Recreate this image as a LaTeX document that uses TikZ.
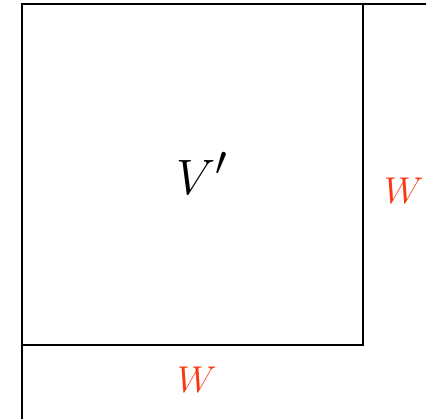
\documentclass[tikz,border=0pt]{standalone}
\usetikzlibrary{positioning}
\begin{document}
\begin{tikzpicture}[x=1pt, y=-1pt, line width=1.6pt]

% Define Colors
\definecolor{labelRed}{RGB}{250,55,20}
\tikzset{
    spaceBox/.style={draw, black, minimum width=341pt, minimum height=341pt, inner sep=0pt, outer sep=0pt},
    wLabel/.style={text=labelRed, font=\Huge}
}

\useasboundingbox (0,0) rectangle (426,419);

% --- THE SUBSPACE BOX ---
    \node[spaceBox, font=\Huge] (vbox) at (192.5,174.5) {\hspace*{20pt}\raisebox{2pt}{\scalebox{2}{$V'$}}};

% Lines running off the picture
    \coordinate (topEnd) at (430,4);
    \coordinate (leftEnd) at (22,423);
    \draw (vbox.north east) -- (topEnd);
    \draw (vbox.south west) -- (leftEnd);

% --- THE COMPLEMENT LABELS ---
    \node[wLabel] (wRight) at (404,191) {\scalebox{1.5}{$W$}};
    \node[wLabel] (wBottom) at (197,380) {\scalebox{1.5}{$W$}};

\end{tikzpicture}
\end{document}
